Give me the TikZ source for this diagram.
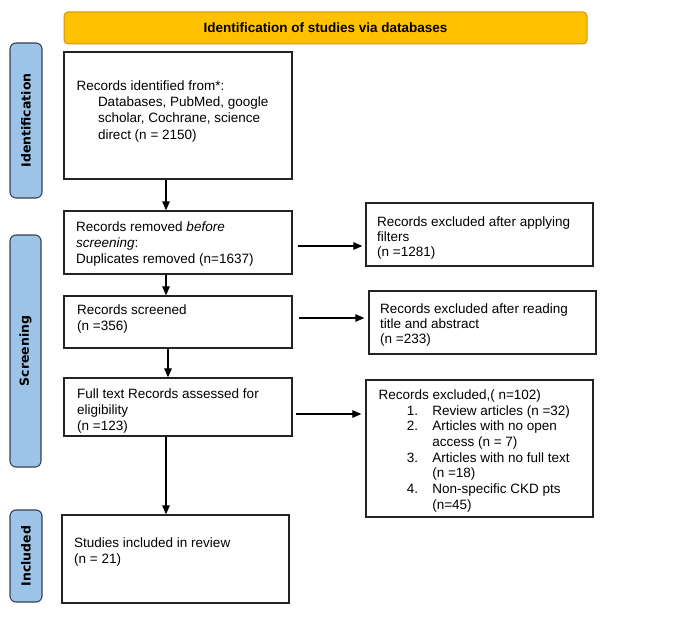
\documentclass[tikz,border=0pt]{standalone}
\usepackage{fontspec}
\setmainfont{Liberation Sans}
\newfontfamily\sidefont{DejaVu Sans}
\usetikzlibrary{arrows.meta}
\definecolor{bannerfill}{RGB}{255,192,0}
\definecolor{bannerdraw}{RGB}{205,155,25}
\definecolor{sidefill}{RGB}{157,195,230}
\definecolor{sidedraw}{RGB}{55,65,85}
\definecolor{boxdraw}{RGB}{35,35,35}
\begin{document}
\begin{tikzpicture}[x=1pt,y=-1pt,
  box/.style={draw=boxdraw, line width=1.3pt, rectangle, inner sep=0pt},
  txt/.style={anchor=north west, inner sep=0pt, align=left, font=\fontsize{13.5}{#1}\selectfont},
  txt/.default=16,
  side/.style={draw=sidedraw, fill=sidefill, line width=1.1pt, rounded corners=6pt, rotate=90, inner sep=0pt, font=\sidefont\bfseries\fontsize{12.5}{14}\selectfont},
  banner/.style={draw=bannerdraw, fill=bannerfill, line width=1pt, rounded corners=4pt, inner sep=0pt, font=\bfseries\fontsize{13.5}{15}\selectfont},
  arr/.style={draw=black, line width=1.1pt, -{Triangle[length=9pt,width=7.5pt]}}
]
\useasboundingbox (0,0) rectangle (685,618);
\fill[white] (0,0) rectangle (685,618);

% banner and side labels
\node[banner, minimum width=523pt, minimum height=32pt] (ban) at (325.5,28) {Identification of studies via databases};
\node[side, minimum width=155pt, minimum height=32pt] (sid) at (26,120.5) {Identification};
\node[side, minimum width=232pt, minimum height=31pt] (sscr) at (25.5,351) {Screening};
\node[side, minimum width=92pt, minimum height=32pt] (sinc) at (26,556) {Included};

% boxes
\node[box, minimum width=228pt, minimum height=127pt] (b1) at (178,115.5) {};
\node[box, minimum width=228pt, minimum height=63pt] (b2) at (178,242.5) {};
\node[box, minimum width=227pt, minimum height=63pt] (b3) at (479.5,234.5) {};
\node[box, minimum width=228pt, minimum height=52pt] (b4) at (178,322) {};
\node[box, minimum width=227pt, minimum height=63pt] (b5) at (482.5,322.5) {};
\node[box, minimum width=228pt, minimum height=58pt] (b6) at (178,407) {};
\node[box, minimum width=227pt, minimum height=137pt] (b7) at (479.5,448.5) {};
\node[box, minimum width=227pt, minimum height=88pt] (b8) at (175.5,559) {};

% texts
\node[txt=16.3] (t1) at (76.5,80.3) {Records identified from*:\\
\hspace*{21.3pt}Databases, PubMed, google\\
\hspace*{21.3pt}scholar, Cochrane, science\\
\hspace*{21.3pt}direct (n = 2150)};
\node[txt=16.2] (t2) at (76,221.1) {Records removed \textit{before}\\
\textit{screening}:\\
Duplicates removed (n=1637)};
\node[txt=15.2] (t3) at (377,216.1) {Records excluded after applying\\
filters\\
(n =1281)};
\node[txt=16.5] (t4) at (77,304.4) {Records screened\\
(n =356)};
\node[txt=15.3] (t5) at (380,303.4) {Records excluded after reading\\
title and abstract\\
(n =233)};
\node[txt=16] (t6) at (77,388.4) {Full text Records assessed for\\
eligibility\\
(n =123)};
\node[txt=15.7] (t7) at (378.3,389.4) {Records excluded,( n=102)\\
\hspace*{28.4pt}\makebox[25.4pt][l]{1.}Review articles (n =32)\\
\hspace*{28.4pt}\makebox[25.4pt][l]{2.}Articles with no open\\
\hspace*{53.8pt}access (n = 7)\\
\hspace*{28.4pt}\makebox[25.4pt][l]{3.}Articles with no full text\\
\hspace*{53.8pt}(n =18)\\
\hspace*{28.4pt}\makebox[25.4pt][l]{4.}Non-specific CKD pts\\
\hspace*{53.8pt}(n=45)};
\node[txt=16] (t8) at (74,537.4) {Studies included in review\\
(n = 21)};

% connector helpers
\coordinate (v1) at (166,0);
\coordinate (v3) at (168,0);
\coordinate (h1) at (0,246);
\coordinate (h2) at (0,318);
\coordinate (h3) at (0,414);

% vertical arrows
\draw[arr] (b1.south -| v1) -- (b2.north -| v1);
\draw[arr] (b2.south -| v1) -- (b4.north -| v1);
\draw[arr] (b4.south -| v3) -- (b6.north -| v3);
\draw[arr] (b6.south -| v1) -- (b8.north -| v1);

% horizontal arrows
\draw[arr, shorten <=5pt, shorten >=3pt] (b2.east |- h1) -- (b3.west |- h1);
\draw[arr, shorten <=6pt, shorten >=4pt] (b4.east |- h2) -- (b5.west |- h2);
\draw[arr, shorten <=3pt, shorten >=4pt] (b6.east |- h3) -- (b7.west |- h3);
\end{tikzpicture}
\end{document}
